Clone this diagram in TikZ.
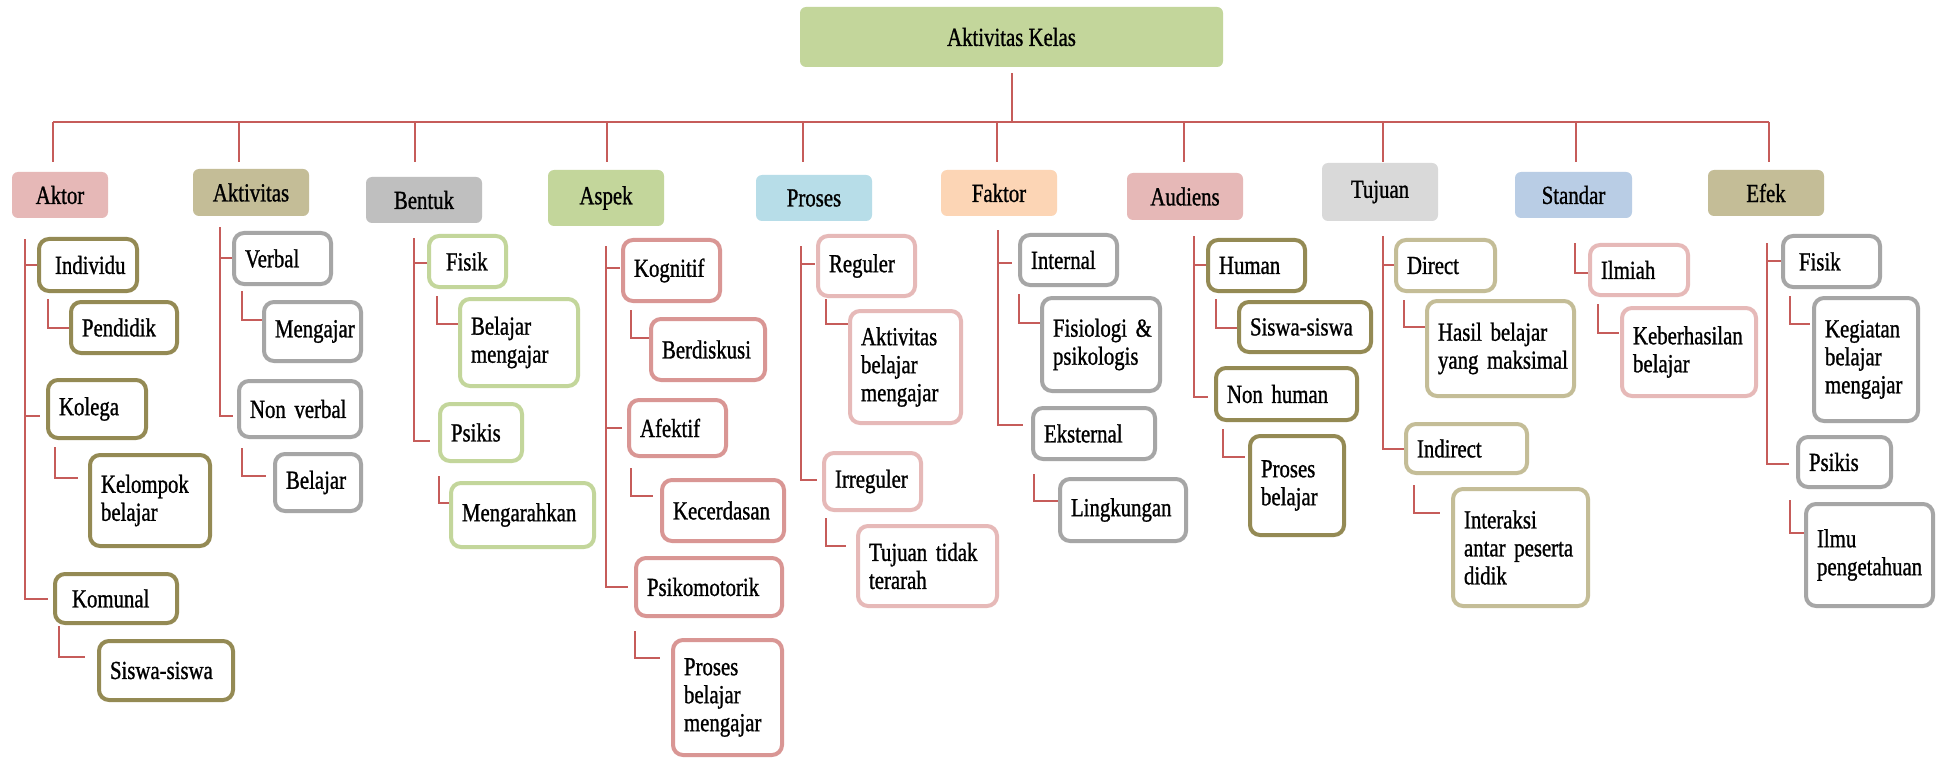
\documentclass[tikz,border=0pt]{standalone}
\usepackage{fontspec}
\setmainfont{Liberation Serif}[FakeStretch=0.8,FakeBold=1]
\usetikzlibrary{calc}

\definecolor{linkred}{HTML}{C65C5A}
\definecolor{fillGreen}{HTML}{C3D69B}
\definecolor{fillPink}{HTML}{E6B8B7}
\definecolor{fillTan}{HTML}{C4BD97}
\definecolor{fillGrey}{HTML}{BFBFBF}
\definecolor{fillBlue}{HTML}{B7DDE8}
\definecolor{fillPeach}{HTML}{FCD5B5}
\definecolor{fillLight}{HTML}{D9D9D9}
\definecolor{fillSteel}{HTML}{B9CDE5}
\definecolor{edgeOlive}{HTML}{948A54}
\definecolor{edgeGrey}{HTML}{A6A6A6}
\definecolor{edgeGreen}{HTML}{C3D69B}
\definecolor{edgeRose}{HTML}{D99694}
\definecolor{edgePink}{HTML}{E6B9B8}
\definecolor{edgeTan}{HTML}{C4BD97}

\hyphenpenalty=10000
\exhyphenpenalty=10000

\tikzset{
  catnode/.style={rounded corners=3pt, inner sep=1pt, align=center},
  leaf/.style={draw, line width=2pt, rounded corners=5pt, fill=white,
               inner xsep=5.5pt, inner ysep=1pt, align=left},
  link/.style={draw=linkred, line width=1pt},
  busline/.style={draw=linkred, line width=1.3pt},
}

% category box: name, x1, y1, x2, y2, fill, text
\newcommand\catbox[7]{%
  \pgfmathsetmacro\cbW{(#4-#2)/2}%
  \pgfmathsetmacro\cbH{(#5-#3)/2}%
  \node[catnode, fill=#6, minimum width=\cbW pt, minimum height=\cbH pt]
    (#1) at ({(#2+#4)/2},{(#3+#5)/2}) {#7};}

% leaf box: name, x1, y1, x2, y2, edge colour, text
\newcommand\leafbox[7]{%
  \pgfmathsetmacro\lbW{(#4-#2-4)/2}%
  \pgfmathsetmacro\lbH{(#5-#3-4)/2}%
  \pgfmathsetmacro\lbT{\lbW-11}%
  \node[leaf, draw=#6, minimum width=\lbW pt, minimum height=\lbH pt,
        text width=\lbT pt] (#1) at ({(#2+#4)/2},{(#3+#5)/2}) {#7};}

% elbow from a box down and across to its sub-box
\newcommand\sublink[6]{%
  \draw[link] ($(#1.south west)+(#3,#4)$) |- ($(#2.north west)+(#5,#6)$);}

\begin{document}
\begin{tikzpicture}[x=0.5pt, y=-0.5pt, font=\fontsize{13pt}{14pt}\selectfont]
\fill[white] (0,0) rectangle (1937,759);
\useasboundingbox (0,0) rectangle (1937,759);

% root and categories
\catbox{root}{800}{7}{1223}{67}{fillGreen}{Aktivitas Kelas}
\catbox{aktor}{12}{172}{108}{218}{fillPink}{Aktor}
\catbox{aktivitas}{193}{169}{309}{216}{fillTan}{Aktivitas}
\catbox{bentuk}{366}{177}{482}{223}{fillGrey}{Bentuk}
\catbox{aspek}{548}{170}{664}{226}{fillGreen}{Aspek}
\catbox{proses}{756}{175}{872}{221}{fillBlue}{Proses}
\catbox{faktor}{941}{170}{1057}{216}{fillPeach}{Faktor}
\catbox{audiens}{1127}{173}{1243}{220}{fillPink}{Audiens}
\catbox{tujuan}{1322}{163}{1438}{221}{fillLight}{Tujuan}
\catbox{standar}{1515}{172}{1632}{218}{fillSteel}{Standar}
\catbox{efek}{1708}{170}{1824}{216}{fillTan}{Efek}

% Aktor
\leafbox{individu}{37}{237}{139}{293}{edgeOlive}{\hspace*{2.5pt}Individu}
\leafbox{pendidik}{69}{300}{179}{355}{edgeOlive}{Pendidik}
\leafbox{kolega}{46}{378}{148}{440}{edgeOlive}{Kolega}
\leafbox{kelompok}{88}{453}{212}{548}{edgeOlive}{Kelompok\\belajar}
\leafbox{komunal}{53}{572}{179}{625}{edgeOlive}{\hspace*{3pt}Komunal}
\leafbox{siswaA}{97}{639}{235}{702}{edgeOlive}{Siswa-siswa}
% Aktivitas
\leafbox{verbal}{232}{231}{333}{286}{edgeGrey}{Verbal}
\leafbox{mengajar}{262}{300}{363}{363}{edgeGrey}{Mengajar}
\leafbox{nonverbal}{237}{379}{363}{439}{edgeGrey}{Non~verbal}
\leafbox{belajarA}{273}{452}{363}{513}{edgeGrey}{Belajar}
% Bentuk
\leafbox{fisikB}{427}{234}{508}{289}{edgeGreen}{\hspace*{3pt}Fisik}
\leafbox{bmB}{458}{297}{580}{388}{edgeGreen}{Belajar\\mengajar}
\leafbox{psikisB}{438}{402}{524}{463}{edgeGreen}{Psikis}
\leafbox{mengarahkan}{449}{481}{596}{549}{edgeGreen}{Mengarahkan}
% Aspek
\leafbox{kognitif}{621}{238}{722}{303}{edgeRose}{Kognitif}
\leafbox{berdiskusi}{649}{317}{767}{382}{edgeRose}{Berdiskusi}
\leafbox{afektif}{627}{398}{728}{458}{edgeRose}{Afektif}
\leafbox{kecerdasan}{660}{478}{786}{543}{edgeRose}{Kecerdasan}
\leafbox{psikomotorik}{634}{556}{784}{618}{edgeRose}{Psikomotorik}
\leafbox{pbm}{671}{638}{784}{757}{edgeRose}{Proses\\belajar\\mengajar}
% Proses
\leafbox{reguler}{816}{234}{917}{298}{edgePink}{Reguler}
\leafbox{abm}{848}{309}{963}{425}{edgePink}{Aktivitas\\belajar\\mengajar}
\leafbox{irreguler}{822}{451}{923}{512}{edgePink}{Irreguler}
\leafbox{ttt}{856}{524}{999}{608}{edgePink}{Tujuan~tidak\\terarah}
% Faktor
\leafbox{internal}{1018}{233}{1119}{287}{edgeGrey}{Internal}
\leafbox{fisiologi}{1040}{296}{1162}{393}{edgeGrey}{Fisiologi~\&\\psikologis}
\leafbox{eksternal}{1031}{406}{1157}{461}{edgeGrey}{Eksternal}
\leafbox{lingkungan}{1058}{477}{1188}{543}{edgeGrey}{Lingkungan}
% Audiens
\leafbox{human}{1206}{238}{1307}{293}{edgeOlive}{Human}
\leafbox{siswaB}{1237}{300}{1373}{354}{edgeOlive}{Siswa-siswa}
\leafbox{nonhuman}{1214}{366}{1359}{422}{edgeOlive}{Non~human}
\leafbox{prosesB}{1248}{434}{1346}{537}{edgeOlive}{Proses\\belajar}
% Tujuan
\leafbox{direct}{1394}{238}{1497}{293}{edgeTan}{Direct}
\leafbox{hasil}{1425}{299}{1576}{398}{edgeTan}{Hasil~belajar\\yang~maksimal}
\leafbox{indirect}{1404}{422}{1529}{475}{edgeTan}{Indirect}
\leafbox{interaksi}{1451}{487}{1590}{608}{edgeTan}{Interaksi\\antar~peserta\\didik}
% Standar
\leafbox{ilmiah}{1588}{243}{1690}{297}{edgePink}{Ilmiah}
\leafbox{keberhasilan}{1620}{306}{1758}{398}{edgePink}{Keberhasilan\\belajar}
% Efek
\leafbox{fisikE}{1781}{234}{1882}{289}{edgeGrey}{\hspace*{2.5pt}Fisik}
\leafbox{kegiatan}{1812}{296}{1920}{423}{edgeGrey}{Kegiatan\\belajar\\mengajar}
\leafbox{psikisE}{1796}{435}{1893}{489}{edgeGrey}{Psikis}
\leafbox{ilmu}{1804}{502}{1935}{608}{edgeGrey}{Ilmu\\pengetahuan}

% bus from the root to the categories
\coordinate (bus) at (0,122);
\coordinate (dropend) at (0,162);
\coordinate (dAktor) at ($(aktor.north)+(-7,0)$);
\coordinate (dAktivitas) at ($(aktivitas.north)+(-12,0)$);
\coordinate (dBentuk) at ($(bentuk.north)+(-9,0)$);
\coordinate (dAspek) at ($(aspek.north)+(1,0)$);
\coordinate (dProses) at ($(proses.north)+(-11,0)$);
\coordinate (dFaktor) at ($(faktor.north)+(-2,0)$);
\coordinate (dAudiens) at ($(audiens.north)+(-1,0)$);
\coordinate (dTujuan) at ($(tujuan.north)+(3,0)$);
\coordinate (dStandar) at ($(standar.north)+(2,0)$);
\coordinate (dEfek) at ($(efek.north)+(3,0)$);
\draw[link] ($(root.south)+(0,6)$) -- (root.south |- bus);
\draw[busline] (dAktor |- bus) -- (dEfek |- bus);
\foreach \d in {dAktor,dAktivitas,dBentuk,dAspek,dProses,dFaktor,dAudiens,dTujuan,dStandar,dEfek}
  \draw[link] (\d |- bus) -- (\d |- dropend);

% category spines
\coordinate (mAktor) at ($(aktor.south west)+(13,21)$);
\draw[link] (mAktor) |- (individu.west);
\draw[link] (mAktor) |- ($(kolega.west)+(-6,7)$);
\draw[link] (mAktor) |- ($(komunal.west)+(-5,0)$);

\coordinate (mAktivitas) at ($(aktivitas.south west)+(27,11)$);
\draw[link] (mAktivitas) |- (verbal.west);
\draw[link] (mAktivitas) |- ($(nonverbal.west)+(-4,7)$);

\coordinate (mBentuk) at ($(bentuk.south west)+(48,15)$);
\draw[link] (mBentuk) |- ($(fisikB.west)+(0,2)$);
\draw[link] (mBentuk) |- ($(psikisB.west)+(-8,8)$);

\coordinate (mAspek) at ($(aspek.south west)+(58,20)$);
\draw[link] (mAspek) |- ($(kognitif.west)+(-1,-2)$);
\draw[link] (mAspek) |- ($(afektif.west)+(-5,0)$);
\draw[link] (mAspek) |- ($(psikomotorik.west)+(-6,0)$);

\coordinate (mProses) at ($(proses.south west)+(45,25)$);
\draw[link] (mProses) |- ($(reguler.west)+(-1,-2)$);
\draw[link] (mProses) |- ($(irreguler.west)+(-5,-2)$);

\coordinate (mFaktor) at ($(faktor.south west)+(57,14)$);
\draw[link] (mFaktor) |- ($(internal.west)+(-6,3)$);
\draw[link] (mFaktor) |- ($(eksternal.west)+(-8,-9)$);

\coordinate (mAudiens) at ($(audiens.south west)+(67,16)$);
\draw[link] (mAudiens) |- (human.west);
\draw[link] (mAudiens) |- ($(nonhuman.west)+(-6,3)$);

\coordinate (mTujuan) at ($(tujuan.south west)+(61,15)$);
\draw[link] (mTujuan) |- (direct.west);
\draw[link] (mTujuan) |- (indirect.west);

\coordinate (mStandar) at ($(standar.south west)+(60,25)$);
\draw[link] (mStandar) |- ($(ilmiah.west)+(0,3)$);

\coordinate (mEfek) at ($(efek.south west)+(59,27)$);
\draw[link] (mEfek) |- (fisikE.west);
\draw[link] (mEfek) |- ($(psikisE.west)+(-7,2)$);

% elbows to the sub-boxes
\sublink{individu}{pendidik}{11}{6}{0}{28}
\sublink{kolega}{kelompok}{9}{7}{-10}{25}
\sublink{komunal}{siswaA}{6}{1}{-12}{18}
\sublink{verbal}{mengajar}{10}{5}{0}{20}
\sublink{nonverbal}{belajarA}{5}{9}{-7}{24}
\sublink{fisikB}{bmB}{10}{7}{0}{27}
\sublink{psikisB}{mengarahkan}{1}{13}{0}{22}
\sublink{kognitif}{berdiskusi}{10}{7}{0}{21}
\sublink{afektif}{kecerdasan}{4}{10}{-7}{18}
\sublink{psikomotorik}{pbm}{1}{13}{-11}{20}
\sublink{reguler}{abm}{10}{1}{0}{15}
\sublink{irreguler}{ttt}{4}{6}{-10}{22}
\sublink{internal}{fisiologi}{1}{7}{0}{27}
\sublink{eksternal}{lingkungan}{3}{13}{0}{24}
\sublink{human}{siswaB}{10}{6}{0}{28}
\sublink{nonhuman}{prosesB}{9}{7}{-3}{23}
\sublink{direct}{hasil}{10}{7}{0}{28}
\sublink{indirect}{interaksi}{10}{10}{-11}{26}
\sublink{ilmiah}{keberhasilan}{10}{7}{-1}{27}
\sublink{fisikE}{kegiatan}{9}{7}{-2}{28}
\sublink{psikisE}{ilmu}{-6}{11}{0}{31}
\end{tikzpicture}
\end{document}
